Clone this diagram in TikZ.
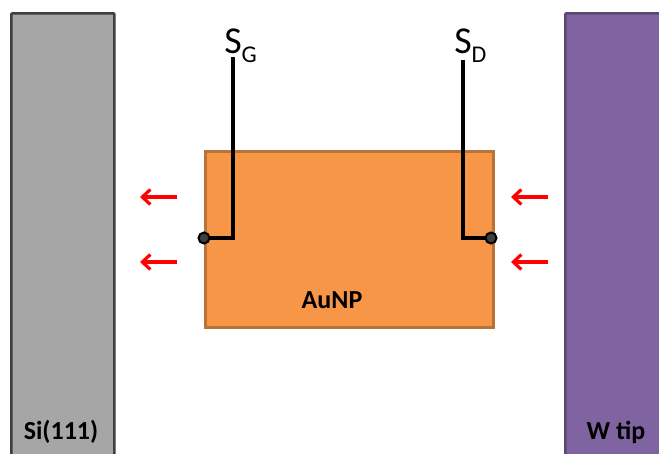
\documentclass[tikz,border=0pt]{standalone}
\usepackage{fontspec}
\setmainfont{Carlito}
\usetikzlibrary{arrows.meta}
\definecolor{sigray}{HTML}{A6A6A6}
\definecolor{sidark}{HTML}{3F3F3F}
\definecolor{auorange}{HTML}{F79646}
\definecolor{auedge}{HTML}{B8733A}
\definecolor{wpurple}{HTML}{8064A2}
\definecolor{wedge}{HTML}{5C4776}

\tikzset{
  slab/.style={line width=2.6pt, rounded corners=1pt, inner sep=0pt, anchor=north west},
  lbl/.style={font=\bfseries\fontsize{26}{30}\selectfont},
  wire/.style={line width=3.4pt},
  pindot/.style={circle, draw=black, fill=sidark, line width=2pt, minimum size=11pt, inner sep=0pt},
  force/.style={red, line width=3.2pt, -{Straight Barb[length=8pt,width=15pt]}},
  probe/.style={font=\fontsize{38}{42}\selectfont, inner sep=0pt, anchor=base}
}

\begin{document}
\begin{tikzpicture}[x=1pt, y=-1pt]
  \useasboundingbox (0,0) rectangle (659,453);
  \begin{scope}
    \clip (0,0) rectangle (659,453);
    % substrate and tip
    \node[slab, draw=sidark, fill=sigray, minimum width=103pt, minimum height=470pt] (si) at (10,12) {};
    \node[slab, draw=wedge, fill=wpurple, minimum width=120pt, minimum height=470pt] (wt) at (564,12) {};
  \end{scope}
  \node[lbl] (silbl) at (61,432) {Si(111)};
  \node[lbl] (wtlbl) at (616,432) {W tip};

  % nanoparticle
  \node[slab, draw=auedge, fill=auorange, line width=2.8pt, rounded corners=0pt, minimum width=288pt, minimum height=176pt] (np) at (204,150) {};
  \node[lbl] (nplbl) at (332,300) {AuNP};

  % source and drain
  \node[probe] (sg) at (233,53) {S\rlap{\raisebox{-0.25em}{\fontsize{24}{28}\selectfont G}}};
  \node[probe] (sd) at (463,53) {S\rlap{\raisebox{-0.25em}{\fontsize{24}{28}\selectfont D}}};
  \coordinate (sgtop) at ([yshift=-4pt]sg.base);
  \coordinate (sdtop) at ([yshift=-7pt]sd.base);
  \coordinate (gpin) at (204,238);
  \coordinate (dpin) at (491,238);
  \draw[wire] (sgtop) |- (gpin);
  \draw[wire] (sdtop) |- (dpin);
  \node[pindot] (dg) at (gpin) {};
  \node[pindot] (dd) at (dpin) {};

  % forces
  \foreach \y in {197,262} {
    \coordinate (la\y) at (177,\y);
    \coordinate (lb\y) at (140,\y);
    \coordinate (ra\y) at (548,\y);
    \coordinate (rb\y) at (511,\y);
    \draw[force] (la\y) -- (lb\y);
    \draw[force] (ra\y) -- (rb\y);
  }
\end{tikzpicture}
\end{document}
